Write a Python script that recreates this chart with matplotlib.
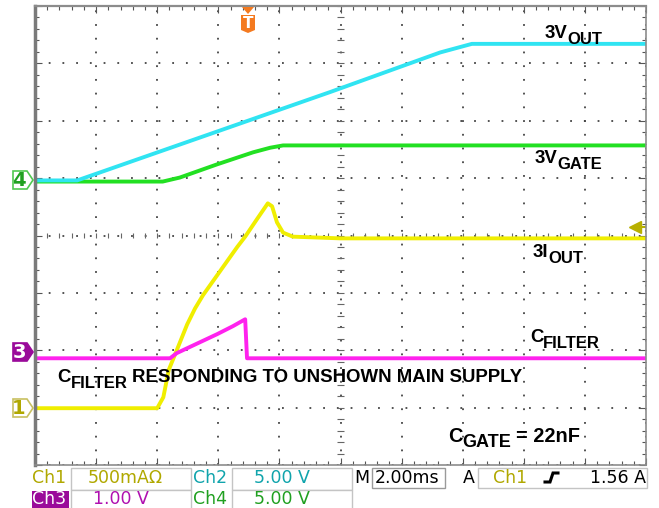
import matplotlib
matplotlib.use("Agg")
import matplotlib.pyplot as plt
import numpy as np
from matplotlib.patches import Polygon, Rectangle

# trace data, in scope divisions (x: 0..10, y: -4..4 with 0 at the centre line)
out_t = [0, 0.69, 4.83, 6.63, 7.15, 10]
out_v = [0.96, 0.96, 2.50, 3.19, 3.34, 3.34]          # Ch2  3V_OUT

gate_t = [0, 2.09, 2.37, 2.98, 3.57, 3.85, 4.06, 10]
gate_v = [0.94, 0.94, 1.01, 1.24, 1.45, 1.53, 1.57, 1.57]   # Ch4  3V_GATE

iout_t = [0, 2.0, 2.1, 2.19, 2.32, 2.49, 2.62, 2.75, 3.03, 3.31, 3.44, 3.63, 3.81, 3.88, 3.96, 4.06, 4.22, 5.0, 10]
iout_v = [-3.01, -3.01, -2.82, -2.34, -2.0, -1.55, -1.27, -1.04, -0.62, -0.20, -0.02, 0.28, 0.56, 0.51, 0.23, 0.05, -0.02, -0.05, -0.05]  # Ch1 3I_OUT

filt_t = [0, 2.21, 2.32, 2.70, 2.98, 3.24, 3.44, 3.47, 10]
filt_v = [-2.14, -2.14, -2.05, -1.86, -1.72, -1.58, -1.46, -2.14, -2.14]   # Ch3 C_FILTER

# status bar readouts
ch_names = ["Ch1", "Ch2", "Ch3", "Ch4"]
ch_scales = ["500mA\u03a9", "5.00 V", "1.00 V", "5.00 V"]
timebase = "2.00ms"
trig_src, trig_level = "Ch1", "1.56 A"

CYAN, GREEN, YELLOW, MAGENTA = "#30e4f2", "#22e022", "#f0ee00", "#ff22ee"
OLIVE, TEAL, PURPLE, MTEXT, GTEXT = "#b0a800", "#10a4ac", "#9a0a9a", "#b010b0", "#20a020"
ORANGE = "#f47a20"

W, H = 659, 508
fig = plt.figure(figsize=(W / 100, H / 100), dpi=100)
fig.patch.set_facecolor("white")

ax = fig.add_axes([35 / W, (H - 465) / H, (646 - 35) / W, (465 - 6) / H])
ax.set_xlim(0, 10)
ax.set_ylim(-4, 4)
ax.set_xticks(np.arange(0, 11, 1))
ax.set_yticks(np.arange(-4, 5, 1))
ax.set_xticks(np.arange(0, 10.01, 0.2), minor=True)
ax.set_yticks(np.arange(-4, 4.01, 0.2), minor=True)
ax.tick_params(which="both", direction="in", top=True, right=True,
               labelbottom=False, labelleft=False, color="#555555", width=0.8)
ax.tick_params(which="major", length=5)
ax.tick_params(which="minor", length=3)
ax.grid(True, which="major", color="#444444", lw=1.3, linestyle=(0, (1.0, 6.6)))
for s in ["top", "right", "bottom"]:
    ax.spines[s].set_color("#8c8c8c")
    ax.spines[s].set_linewidth(1.2)
ax.spines["left"].set_color("#7a7a7a")
ax.spines["left"].set_linewidth(2.5)
ax.spines["top"].set_linewidth(1.6)

# small cross ticks on the centre lines
mt = np.arange(0, 10.01, 0.2)
ax.vlines(mt, -0.05, 0.05, color="#666666", lw=0.8)
mv = np.arange(-4, 4.01, 0.2)
ax.hlines(mv, 4.95, 5.05, color="#666666", lw=0.8)

ax.plot(iout_t, iout_v, color=YELLOW, lw=2.8, solid_joinstyle="round")
ax.plot(gate_t, gate_v, color=GREEN, lw=2.8, solid_joinstyle="round")
ax.plot(out_t, out_v, color=CYAN, lw=2.8, solid_joinstyle="round")
ax.plot(filt_t, filt_v, color=MAGENTA, lw=2.8, solid_joinstyle="round")

# trigger level arrow on right edge
ax.plot([9.82, 10], [0.14, 0.14], color="#b8b000", lw=1.5)
ax.plot([9.82], [0.14], marker="<", color="#b8b000", ms=8, mec="#b8b000")

# overlay in pixel coords (y downward) for markers, labels and readouts
ov = fig.add_axes([0, 0, 1, 1])
ov.set_xlim(0, W)
ov.set_ylim(H, 0)
ov.axis("off")
ov.patch.set_visible(False)

def chan_marker(y, txt, fc, ec, tc):
    pts = [(13, y - 9), (27, y - 9), (33, y), (27, y + 9), (13, y + 9)]
    ov.add_patch(Polygon(pts, closed=True, fc=fc, ec=ec, lw=1.2))
    ov.text(19, y + 1, txt, color=tc, fontsize=14, fontweight="bold",
            ha="center", va="center", family="DejaVu Sans")

chan_marker(180, "4", "none", "#50c850", "#20a020")
chan_marker(352, "3", PURPLE, PURPLE, "white")
chan_marker(408, "1", "none", "#c8c060", "#b0a800")

# trigger position marker
ov.add_patch(Polygon([(242, 7), (254, 7), (248, 14)], closed=True, fc=ORANGE, ec="none"))
ov.add_patch(Polygon([(241, 15), (255, 15), (255, 30), (248, 33), (241, 30)],
                     closed=True, fc=ORANGE, ec="none"))
ov.text(248, 23.5, "T", color="white", fontsize=11, fontweight="bold",
        ha="center", va="center", family="DejaVu Sans")

LF = dict(fontsize=13.4, fontweight="bold", family="Liberation Sans", color="black")

def label(x, y, main, sub, rest=None, size=13.4):
    t = ov.text(x, y, main, va="baseline", ha="left", **dict(LF, fontsize=size))
    s = ov.annotate(sub, xy=(1, 0), xycoords=t, xytext=(0, -3.6),
                    textcoords="offset points", va="bottom", ha="left",
                    **dict(LF, fontsize=size - 1.4))
    if rest:
        ov.annotate(rest, xy=(1, 0), xycoords=(s, t), xytext=(3.5, 0),
                    textcoords="offset points", va="bottom", ha="left",
                    **dict(LF, fontsize=size))

label(545, 38, "3V", "OUT")
label(535, 163, "3V", "GATE")
label(533, 257, "3I", "OUT")
label(530, 342, "C", "FILTER")
label(57, 382, "C", "FILTER", "RESPONDING TO UNSHOWN MAIN SUPPLY")
label(448, 442, "C", "GATE", "= 22nF", size=14.4)

# status bar
SF = dict(fontsize=12.5, family="DejaVu Sans", va="center")
BOX = dict(fc="white", ec="#c4c4c4", lw=1)
ov.add_patch(Rectangle((71, 468), 120, 22, **BOX))
ov.add_patch(Rectangle((71, 490), 120, 20, **BOX))
ov.add_patch(Rectangle((232, 468), 120, 22, **BOX))
ov.add_patch(Rectangle((232, 490), 120, 20, **BOX))
ov.add_patch(Rectangle((372, 468), 73, 20, fc="white", ec="#9a9a9a", lw=1))
ov.add_patch(Rectangle((478, 468), 169, 20, **BOX))
ov.add_patch(Rectangle((32, 491), 37, 17, fc=PURPLE, ec="none"))

ov.text(32, 478, ch_names[0], color=OLIVE, ha="left", **SF)
ov.text(88, 478, ch_scales[0], color=OLIVE, ha="left", **SF)
ov.text(193, 478, ch_names[1], color=TEAL, ha="left", **SF)
ov.text(254, 478, ch_scales[1], color=TEAL, ha="left", **SF)
ov.text(32, 499, ch_names[2], color="white", ha="left", **SF)
ov.text(93, 499, ch_scales[2], color=MTEXT, ha="left", **SF)
ov.text(193, 499, ch_names[3], color=GTEXT, ha="left", **SF)
ov.text(254, 499, ch_scales[3], color=GTEXT, ha="left", **SF)
ov.text(354, 478, "M", color="black", ha="left", **SF)
ov.text(375, 478, timebase, color="black", ha="left", **SF)
ov.text(463, 478, "A", color="black", ha="left", **SF)
ov.text(493, 478, trig_src, color=OLIVE, ha="left", **SF)
ov.plot([545, 550, 553, 558], [482, 482, 473, 473], color="black", lw=2.2,
        solid_joinstyle="miter")
ov.text(646, 478, trig_level, color="black", ha="right", **SF)

fig.savefig("out.png", dpi=100)
